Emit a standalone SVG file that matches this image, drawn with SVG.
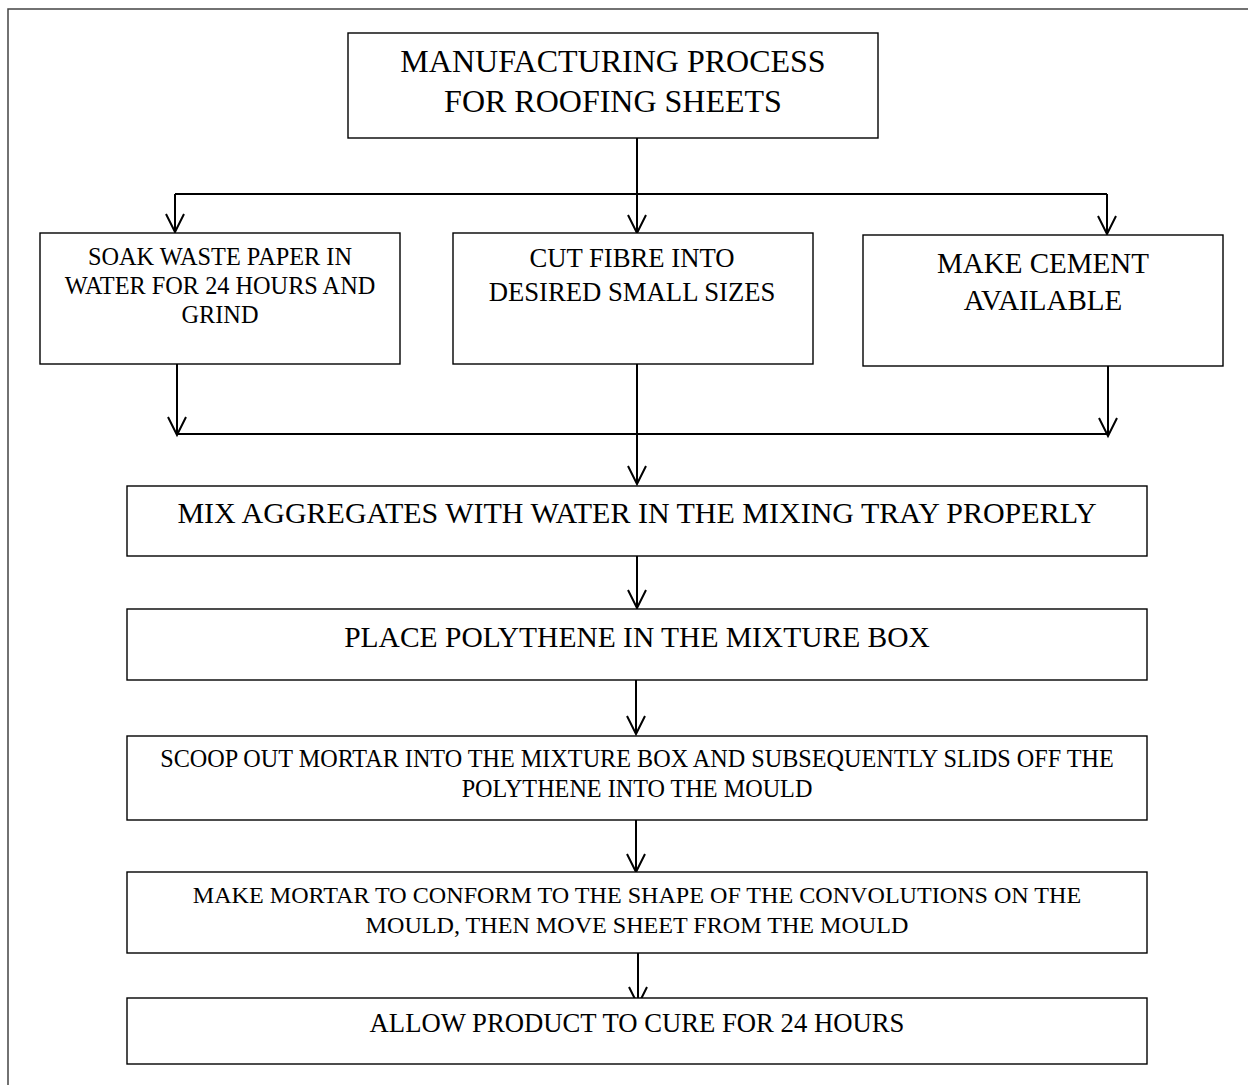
<svg xmlns="http://www.w3.org/2000/svg" width="1248" height="1085" viewBox="0 0 1248 1085">
<style>
  .box { fill: #ffffff; stroke: #000000; stroke-width: 1.4; }
  .t { font-family: "Liberation Serif", "Times New Roman", serif; fill: #000000; text-anchor: middle; }
  .c { fill: none; stroke: #000000; stroke-width: 2; }
  .frame { fill: none; stroke: #444444; stroke-width: 1.5; }
</style>
<defs>
  <marker id="arr" markerUnits="userSpaceOnUse" markerWidth="20" markerHeight="20" refX="0" refY="0" orient="auto" overflow="visible">
    <path d="M -18,-9 L 0,0 L -18,9" fill="none" stroke="#000000" stroke-width="2"/>
  </marker>
</defs>
<rect x="0" y="0" width="1248" height="1085" fill="#ffffff"/>
<rect class="frame" x="8" y="9" width="1260" height="1100"/>

<g id="connectors">
  <line class="c" x1="637" y1="138" x2="637" y2="194"/>
  <line class="c" x1="175" y1="194" x2="1107" y2="194"/>
  <line class="c" x1="175" y1="194" x2="175" y2="232" marker-end="url(#arr)"/>
  <line class="c" x1="637" y1="194" x2="637" y2="233" marker-end="url(#arr)"/>
  <line class="c" x1="1107" y1="194" x2="1107" y2="234" marker-end="url(#arr)"/>
  <line class="c" x1="177" y1="364" x2="177" y2="435" marker-end="url(#arr)"/>
  <line class="c" x1="177" y1="434" x2="1107" y2="434"/>
  <line class="c" x1="1108" y1="366" x2="1108" y2="436" marker-end="url(#arr)"/>
  <line class="c" x1="637" y1="364" x2="637" y2="484" marker-end="url(#arr)"/>
  <line class="c" x1="637" y1="556" x2="637" y2="608" marker-end="url(#arr)"/>
  <line class="c" x1="636" y1="680" x2="636" y2="734" marker-end="url(#arr)"/>
  <line class="c" x1="636" y1="820" x2="636" y2="872" marker-end="url(#arr)"/>
  <line class="c" x1="638" y1="953" x2="638" y2="1005" marker-end="url(#arr)"/>
</g>

<g id="title">
  <rect class="box" x="348" y="33" width="530" height="105"/>
  <text class="t" x="613" y="72" font-size="32">MANUFACTURING PROCESS</text>
  <text class="t" x="613" y="112" font-size="32">FOR ROOFING SHEETS</text>
</g>

<g id="soak">
  <rect class="box" x="40" y="233" width="360" height="131"/>
  <text class="t" x="220" y="265" font-size="24.3">SOAK WASTE PAPER IN</text>
  <text class="t" x="220" y="294" font-size="24.3">WATER FOR 24 HOURS AND</text>
  <text class="t" x="220" y="323" font-size="24.3">GRIND</text>
</g>

<g id="cut">
  <rect class="box" x="453" y="233" width="360" height="131"/>
  <text class="t" x="632" y="267" font-size="26.7">CUT FIBRE INTO</text>
  <text class="t" x="632" y="301" font-size="26.7">DESIRED SMALL SIZES</text>
</g>

<g id="cement">
  <rect class="box" x="863" y="235" width="360" height="131"/>
  <text class="t" x="1043" y="273" font-size="29">MAKE CEMENT</text>
  <text class="t" x="1043" y="310" font-size="29">AVAILABLE</text>
</g>

<g id="mix">
  <rect class="box" x="127" y="486" width="1020" height="70"/>
  <text class="t" x="637" y="523" font-size="30">MIX AGGREGATES WITH WATER IN THE MIXING TRAY PROPERLY</text>
</g>

<g id="place">
  <rect class="box" x="127" y="609" width="1020" height="71"/>
  <text class="t" x="637" y="647" font-size="29.5">PLACE POLYTHENE IN THE MIXTURE BOX</text>
</g>

<g id="scoop">
  <rect class="box" x="127" y="736" width="1020" height="84"/>
  <text class="t" x="637" y="767" font-size="24.2">SCOOP OUT MORTAR INTO THE MIXTURE BOX AND SUBSEQUENTLY SLIDS OFF THE</text>
  <text class="t" x="637" y="797" font-size="24.2">POLYTHENE INTO THE MOULD</text>
</g>

<g id="shape">
  <rect class="box" x="127" y="872" width="1020" height="81"/>
  <text class="t" x="637" y="903" font-size="24.1">MAKE MORTAR TO CONFORM TO THE SHAPE OF THE CONVOLUTIONS ON THE</text>
  <text class="t" x="637" y="933" font-size="24.1">MOULD, THEN MOVE SHEET FROM THE MOULD</text>
</g>

<g id="cure">
  <rect class="box" x="127" y="998" width="1020" height="66"/>
  <text class="t" x="637" y="1032" font-size="26.7">ALLOW PRODUCT TO CURE FOR 24 HOURS</text>
</g>
</svg>
